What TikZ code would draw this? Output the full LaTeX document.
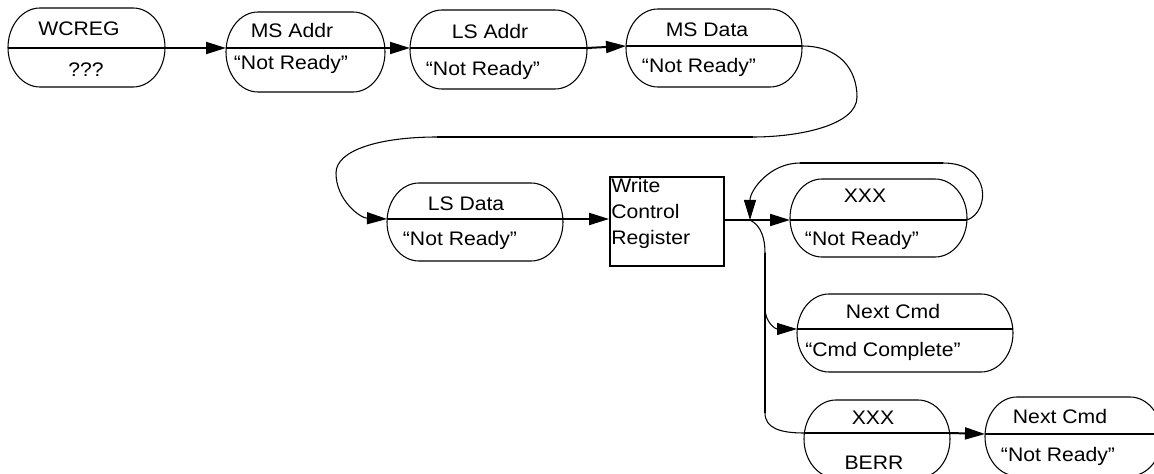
\documentclass[tikz,border=0pt]{standalone}
\usepackage{fontspec}
\setmainfont{Liberation Sans}[FakeStretch=1.08]
\usetikzlibrary{arrows.meta,fit}

\begin{document}
\begin{tikzpicture}[
    x=0.75pt,y=-0.75pt,
    >={Triangle[length=15pt,width=9pt]},
    every node/.style={font=\fontsize{14.7}{19.5}\selectfont},
    outline/.style={draw,line width=0.8pt},
    regbox/.style={draw,line width=1.4pt,inner sep=0pt},
    lbl/.style={anchor=base,inner sep=0pt},
    wire/.style={line width=1.5pt},
    curvewire/.style={line width=0.8pt}
  ]
  \useasboundingbox (0,0) rectangle (1154,474);
  \clip (0,0) rectangle (1154,474);
  %% States, each split by its through line
  \def\rx{32}
  \foreach \name/\xa/\ya/\xb/\yb/\ym in {
      wcreg/8/8/165/87/48,
      msaddr/226/12/385/92/48,
      lsaddr/410/10/587/89/48,
      msdata/626/9/802/87/46,
      lsdata/387/183/563/261/219,
      xxxa/790/179/967/257/220,
      nextcmda/797/294/1013/372/329,
      xxxb/804/400/950/478/433,
      nextcmdb/985/397/1162/476/434
    }{
    \pgfmathsetmacro{\ry}{(\yb-\ya)/2}
    \node[fit={(\xa,\ya) (\xb,\yb)},inner sep=0pt] (\name) {};
    \draw[outline] (\xa+\rx,\ya) -- (\xb-\rx,\ya)
      arc[start angle=-90,end angle=90,x radius=\rx,y radius=\ry]
      -- (\xa+\rx,\yb)
      arc[start angle=90,end angle=270,x radius=\rx,y radius=\ry] -- cycle;
    \coordinate (\name-w) at (\xa,\ym);
    \coordinate (\name-e) at (\xb,\ym);
    \draw[wire] (\name-w) -- (\name-e);
  }
  \node[regbox,fit={(610,177) (724,266)}] (wcr) {};
  \node[anchor=north west,inner sep=0pt,align=left] (wcr-t) at (611,178) {Write\\Control\\Register};

  %% Labels
  \node[lbl] (wcreg-top) at (79,36) {WCREG};
  \node[lbl] (wcreg-bot) at (86,77) {???};
  \node[lbl] (msaddr-top) at (292,38) {MS Addr};
  \node[lbl] (msaddr-bot) at (291,70) {“Not Ready”};
  \node[lbl] (lsaddr-top) at (490,39) {LS Addr};
  \node[lbl] (lsaddr-bot) at (483,76) {“Not Ready”};
  \node[lbl] (msdata-top) at (707,37) {MS Data};
  \node[lbl] (msdata-bot) at (699,73) {“Not Ready”};
  \node[lbl] (lsdata-top) at (466,211) {LS Data};
  \node[lbl] (lsdata-bot) at (460,246) {“Not Ready”};
  \node[lbl] (xxxa-top) at (865,203) {XXX};
  \node[lbl] (xxxa-bot) at (862,246) {“Not Ready”};
  \node[lbl] (nextcmda-top) at (893,319) {Next Cmd};
  \node[lbl] (nextcmda-bot) at (883,356) {“Cmd Complete”};
  \node[lbl] (xxxb-top) at (873,424) {XXX};
  \node[lbl] (xxxb-bot) at (874,469) {BERR};
  \node[lbl] (nextcmdb-top) at (1060,423) {Next Cmd};
  \node[lbl] (nextcmdb-bot) at (1058,461) {“Not Ready”};

  %% Top row
  \draw[wire,->] (wcreg-e) -- (msaddr-w);
  \draw[wire,->] (msaddr-e) -- (lsaddr-w);
  \draw[wire,->] (lsaddr-e) -- (msdata-w);
  %% Wrap down to the second row
  \coordinate (turn-a) at (753,137);
  \coordinate (turn-b) at (437,137);
  \draw[curvewire] (msdata-e) .. controls (840,46) and (857,70) .. (857,97)
    .. controls (857,125) and (800,137) .. (turn-a);
  \draw[wire] (turn-a) -- (turn-b);
  \draw[curvewire,->] (turn-b) .. controls (380,137) and (336,150) .. (336,173)
    .. controls (336,200) and (360,218) .. (lsdata-w);
  \draw[wire,->] (lsdata-e) -- (lsdata-e -| wcr.west);

  %% Fork after the register write
  \coordinate (fork) at (750,220);
  \draw[wire] (fork -| wcr.east) -- (fork);
  \draw[wire,->] (fork) -- (xxxa-w);
  \coordinate (loop-a) at (943,163);
  \coordinate (loop-b) at (800,163);
  \draw[curvewire] (xxxa-e) .. controls (990,212) and (992,163) .. (loop-a);
  \draw[wire] (loop-a) -- (loop-b);
  \draw[curvewire,->] (loop-b) .. controls (770,163) and (750,190) .. (fork);

  \coordinate (drop-a) at (765,253);
  \coordinate (drop-b) at (765,308);
  \coordinate (drop-c) at (765,413);
  \draw[curvewire] (fork) .. controls (762,226) and (765,240) .. (drop-a);
  \draw[wire] (drop-a) -- (drop-c);
  \draw[curvewire,->] (drop-b) .. controls (765,322) and (775,329) .. (nextcmda-w);
  \draw[curvewire] (drop-c) .. controls (765,428) and (780,433) .. (xxxb-w);
  \draw[wire,->] (xxxb-e) -- (nextcmdb-w);
\end{tikzpicture}
\end{document}
